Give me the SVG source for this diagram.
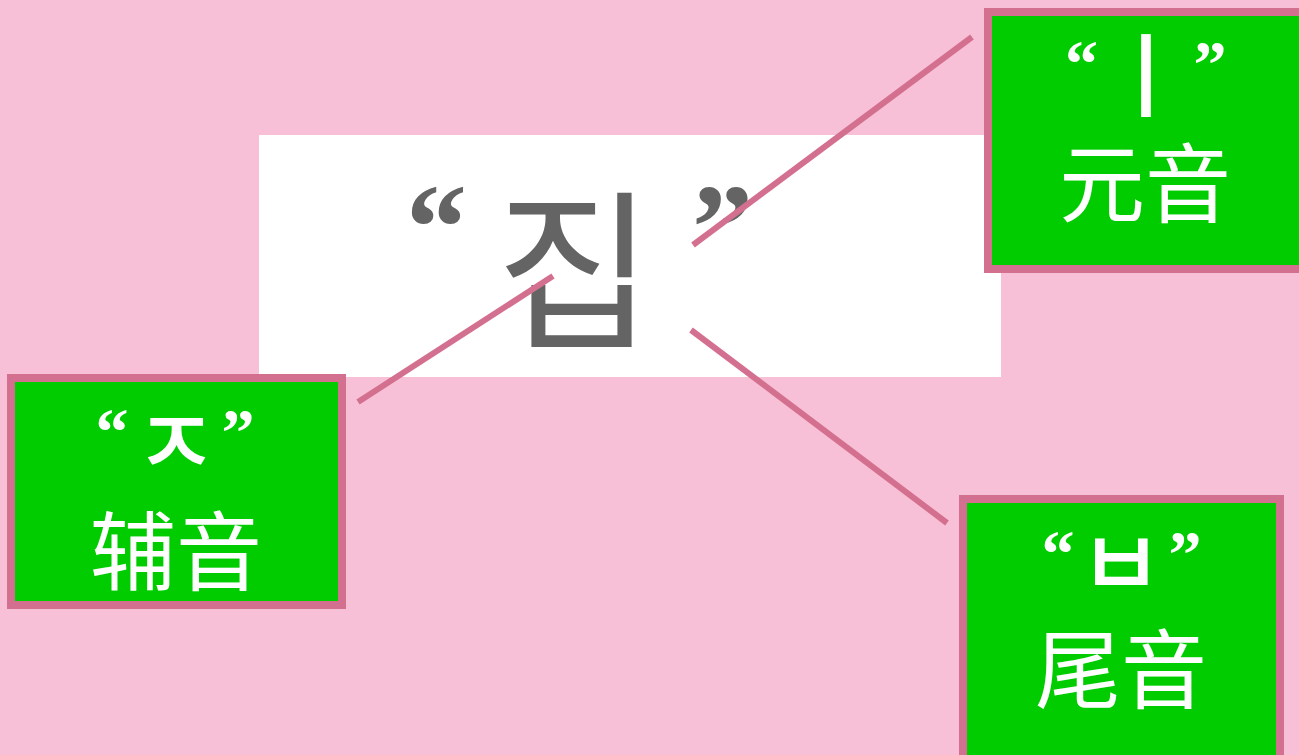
<svg xmlns="http://www.w3.org/2000/svg" width="1299" height="755" viewBox="0 0 1299 755">
<style>
.box{fill:#00CC00;stroke:#D4708F;stroke-width:8}
.lbl{fill:#fff;text-anchor:middle}
.q{font-family:"Liberation Serif",serif;font-weight:bold;font-size:66px}
.j{font-family:"Noto Sans CJK KR",sans-serif;font-weight:500;font-size:92px}
.zh{font-family:"Noto Sans CJK SC",sans-serif;font-size:86px}
.conn line{stroke:#D4708F;stroke-width:6}
</style>
<rect width="1299" height="755" fill="#F8C0D6"/>
<g id="main">
<rect x="259" y="135" width="742" height="242" fill="#fff"/>
<text fill="#646464" text-anchor="middle"><tspan font-family="Liberation Serif,serif" font-weight="bold" font-size="122" x="436.5" y="269">“</tspan><tspan font-family="Noto Sans CJK KR,sans-serif" font-size="172" x="574.5" y="335">집</tspan><tspan font-family="Liberation Serif,serif" font-weight="bold" font-size="122" x="722.5" y="269">”</tspan></text>
</g>
<g class="conn" id="connectors">
<line x1="693" y1="245" x2="972" y2="37"/>
<line x1="358" y1="402" x2="553" y2="276"/>
<line x1="691" y1="330" x2="947" y2="523"/>
</g>
<g id="vowel">
<rect class="box" x="988" y="12" width="320" height="257"/>
<text class="lbl"><tspan class="q" x="1081.5" y="85.6">“</tspan><tspan class="j" x="1145.5" y="110">ㅣ</tspan><tspan class="q" x="1210" y="85.6">”</tspan><tspan class="zh" x="1145" y="216">元音</tspan></text>
</g>
<g id="initial">
<rect class="box" x="11" y="378" width="331" height="227"/>
<text class="lbl"><tspan class="q" x="112" y="453.6">“</tspan><tspan class="j" x="176" y="476">ㅈ</tspan><tspan class="q" x="238" y="453.6">”</tspan><tspan class="zh" x="176" y="584">辅音</tspan></text>
</g>
<g id="final">
<rect class="box" x="963" y="499" width="317" height="260"/>
<text class="lbl"><tspan class="q" x="1058" y="575.6">“</tspan><tspan class="j" x="1121" y="597">ㅂ</tspan><tspan class="q" x="1185" y="575.6">”</tspan><tspan class="zh" x="1121" y="702">尾音</tspan></text>
</g>
</svg>
